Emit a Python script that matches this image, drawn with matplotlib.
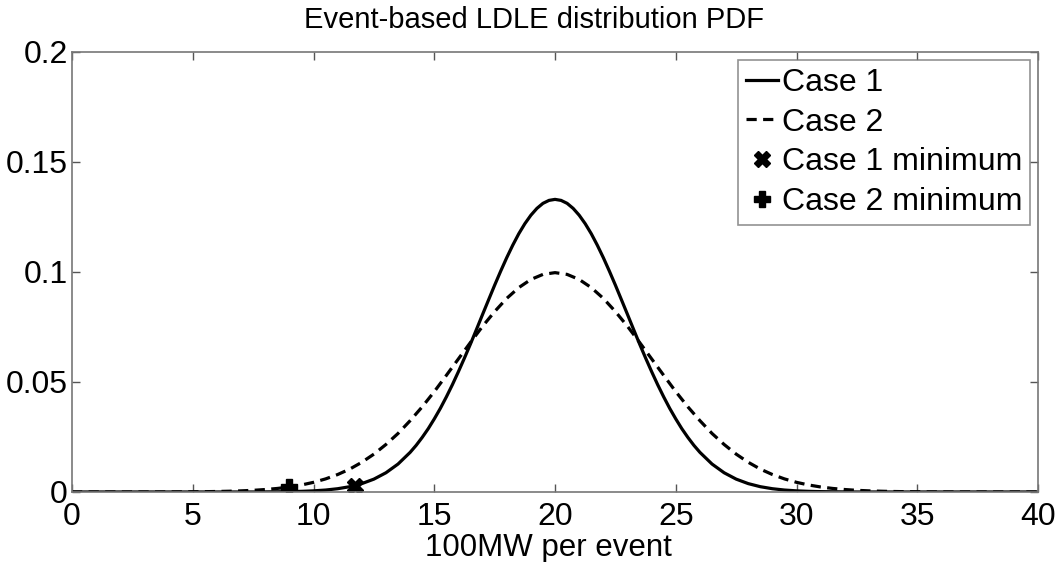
import matplotlib
matplotlib.use("Agg")
import matplotlib.pyplot as plt
import numpy as np

plt.rcParams['font.family'] = ['Liberation Sans', 'DejaVu Sans']

# ---- data (left half of each symmetric curve, mean at 20) ----
case1_x_left = [0, 7.5, 8, 8.5, 9, 9.5, 10, 10.5, 11, 11.5, 12, 12.5, 13, 13.5,
                14, 14.25, 14.5, 14.75, 15, 15.25, 15.5, 15.75, 16, 16.25, 16.5, 16.75,
                17, 17.25, 17.5, 17.75, 18, 18.25, 18.5, 18.75, 19, 19.25, 19.5, 19.75]
case1_y_left = [0.0, 0.0, 0.00004, 0.00009, 0.00016, 0.00029, 0.00051, 0.00088, 0.00148,
                0.00240, 0.00380, 0.00584, 0.00874, 0.0127,
                0.0180, 0.02119, 0.0248, 0.02876, 0.0332, 0.03797, 0.0432, 0.04876,
                0.0547, 0.06089, 0.0673, 0.07396, 0.0807, 0.08737, 0.0940, 0.10039,
                0.1065, 0.11219, 0.1174, 0.12194, 0.1258, 0.12891, 0.1312, 0.13254]
case1_peak = 0.1330

case2_x_left = [0, 3.5, 4, 4.5, 5, 5.5, 6, 6.5, 7, 7.5, 8, 8.5, 9, 9.5, 10, 10.5,
                11, 11.5, 12, 12.5, 13, 13.5, 14, 14.5, 15, 15.5, 16, 16.5, 17, 17.5,
                18, 18.5, 19, 19.5]
case2_y_left = [0.0, 0.0, 0.00003, 0.00005, 0.00009, 0.00014, 0.00022, 0.00034, 0.00051,
                0.00075, 0.00111, 0.00160, 0.00227, 0.00318, 0.00438, 0.00594,
                0.00793, 0.0104, 0.0135, 0.0172, 0.0216, 0.0266, 0.0324, 0.0387,
                0.0456, 0.0530, 0.0605, 0.0680, 0.0753, 0.0820, 0.0880, 0.0929,
                0.0966, 0.0989]
case2_peak = 0.0997
center = 20

case1_min = (11.7, 0.0029)
case2_min = (9.0, 0.0023)

x_ticks = [0, 5, 10, 15, 20, 25, 30, 35, 40]
y_ticks = [0, 0.05, 0.1, 0.15, 0.2]
y_ticklabels = ['0', '0.05', '0.1', '0.15', '0.2']


def full_curve(xl, yl, peak):
    xs = list(xl) + [center] + [2 * center - v for v in xl[::-1]]
    ys = list(yl) + [peak] + list(yl[::-1])
    return xs, ys


c1x, c1y = full_curve(case1_x_left, case1_y_left, case1_peak)
c2x, c2y = full_curve(case2_x_left, case2_y_left, case2_peak)

fig = plt.figure(figsize=(10.57, 5.62), dpi=100)
ax = fig.add_axes([0.0681, 0.1246, 0.914, 0.7829])

ax.plot(c1x, c1y, color='black', lw=2.3, label='Case 1', solid_joinstyle='round')
ax.plot(c2x, c2y, color='black', lw=2.3, ls=(0, (3.2, 2)), label='Case 2')
ax.plot([case1_min[0]], [case1_min[1]], ls='none', marker='X', color='black',
        markersize=11, label='Case 1 minimum')
ax.plot([case2_min[0]], [case2_min[1]], ls='none', marker='P', color='black',
        markersize=12, label='Case 2 minimum')

ax.set_xlim(0, 40)
ax.set_ylim(0, 0.2)
ax.set_xticks(x_ticks)
ax.set_xticklabels([str(t) for t in x_ticks])
ax.set_yticks(y_ticks)
ax.set_yticklabels(y_ticklabels)
ax.tick_params(direction='in', top=True, right=True, length=6, width=1,
               color='#555555', labelsize=23, pad=3)
ax.tick_params(axis='x', pad=7)
for s in ax.spines.values():
    s.set_color('#777777')
    s.set_linewidth(1.2)

ax.set_title('Event-based LDLE distribution PDF', fontsize=21, pad=17, x=0.478)
# x-axis label placed just under the tick labels, as in the reference
fig.text(0.0681 + 0.914 * 0.4935, 1 - 556 / 562, '100MW per event', fontsize=22.5,
         ha='center', va='baseline')

leg = ax.legend(loc='upper right', fontsize=23, frameon=True, fancybox=False,
                edgecolor='#777777', handlelength=1.0, handletextpad=0.1,
                borderpad=0.25, labelspacing=0.3, borderaxespad=0.25)
leg.get_frame().set_linewidth(1.2)

fig.savefig('out.png', dpi=100)
